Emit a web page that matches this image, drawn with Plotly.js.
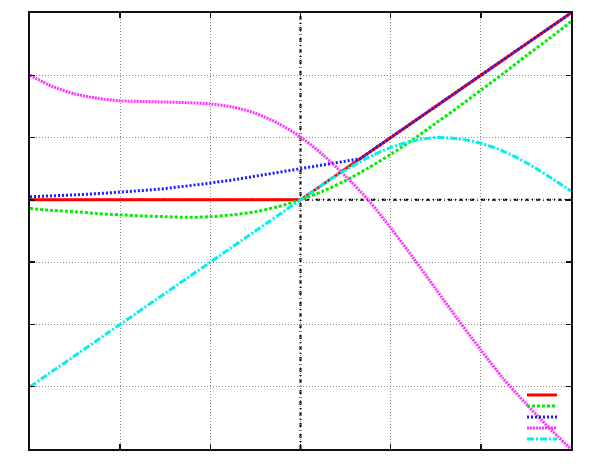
<!DOCTYPE html>
<html>
<head>
<meta charset="utf-8">
<script src="https://cdn.plot.ly/plotly-3.0.1.min.js"></script>
<style>html,body{margin:0;padding:0;background:#fff;}#chart{width:591px;height:472px;}</style>
</head>
<body>
<div id="chart"></div>
<script>
const reluX = [-3, 0, 3];
const reluY = [0, 0, 3];

const swishX = [-3, -2.75, -2.5, -2.25, -2, -1.75, -1.5, -1.25, -1, -0.75, -0.5, -0.25, 0, 0.25, 0.5, 0.75, 1, 1.25, 1.5, 1.75, 2, 2.25, 2.5, 2.75, 3];
const swishY = [-0.14, -0.17, -0.19, -0.22, -0.24, -0.26, -0.27, -0.28, -0.27, -0.24, -0.19, -0.11, 0, 0.14, 0.31, 0.51, 0.73, 0.97, 1.23, 1.49, 1.76, 2.03, 2.31, 2.58, 2.86];

const blueX = [-3, -2.75, -2.5, -2.25, -2, -1.75, -1.5, -1.25, -1, -0.75, -0.5, -0.25, 0, 0.25, 0.5, 0.66, 3];
const blueY = [0.05, 0.06, 0.08, 0.10, 0.12, 0.15, 0.18, 0.22, 0.27, 0.32, 0.38, 0.44, 0.5, 0.56, 0.62, 0.66, 3];

const magX = [-3, -2.75, -2.5, -2.25, -2, -1.75, -1.5, -1.25, -1, -0.75, -0.5, -0.25, 0, 0.25, 0.5, 0.75, 1, 1.25, 1.5, 1.75, 2, 2.25, 2.5, 2.75, 3];
const magY = [2.0, 1.82, 1.70, 1.63, 1.59, 1.58, 1.57, 1.56, 1.54, 1.49, 1.39, 1.23, 1.01, 0.72, 0.38, 0.0, -0.45, -0.93, -1.43, -1.93, -2.41, -2.87, -3.27, -3.65, -4.0];

const cyanX = [-3, 0, 0.25, 0.5, 0.75, 1, 1.25, 1.5, 1.75, 2, 2.25, 2.5, 2.75, 3];
const cyanY = [-3, 0, 0.25, 0.48, 0.68, 0.84, 0.95, 1.0, 0.98, 0.91, 0.78, 0.60, 0.38, 0.14];

const xTicks = [-3, -2, -1, 0, 1, 2, 3];
const yTicks = [-4, -3, -2, -1, 0, 1, 2, 3];

const styles = [
  {color: '#ff0000', dash: 'solid', width: 3, shape: 'linear'},
  {color: '#00ee00', dash: '3px,2px', width: 3, shape: 'spline'},
  {color: '#1a1aff', dash: '2px,2px', width: 3, shape: 'linear'},
  {color: '#ff33ff', dash: '2px,1px', width: 3, shape: 'spline'},
  {color: '#00f0f0', dash: '7px,2px,2px,2px', width: 3, shape: 'spline'}
];

const series = [[reluX, reluY], [swishX, swishY], [blueX, blueY], [magX, magY], [cyanX, cyanY]];
const traces = series.map((s, i) => ({
  x: s[0], y: s[1], type: 'scatter', mode: 'lines', showlegend: false,
  line: {color: styles[i].color, dash: styles[i].dash, width: styles[i].width, shape: styles[i].shape, smoothing: 0.8},
  hoverinfo: 'skip'
}));

const shapes = [
  {type: 'line', xref: 'x', yref: 'paper', x0: 0, x1: 0, y0: 0, y1: 1, layer: 'between',
   line: {color: '#000', width: 2, dash: '4px,3px,1px,3px'}},
  {type: 'line', xref: 'paper', yref: 'y', x0: 0, x1: 1, y0: 0, y1: 0, layer: 'between',
   line: {color: '#000', width: 2, dash: '4px,3px,1px,3px'}}
];
// legend key samples (no text in reference)
const keyY = [0.1239, 0.0986, 0.0734, 0.0482, 0.0229];
styles.forEach((st, i) => {
  shapes.push({type: 'line', xref: 'paper', yref: 'paper', x0: 0.9187, x1: 0.974, y0: keyY[i], y1: keyY[i],
    line: {color: st.color, dash: st.dash, width: st.width}});
});

const axisCommon = {
  showline: true, linecolor: '#111', linewidth: 2, mirror: 'allticks',
  ticks: 'inside', ticklen: 5, tickcolor: '#111', tickwidth: 1.5,
  showticklabels: false, showgrid: true, gridcolor: '#8a8a8a', griddash: '1px,2px', gridwidth: 1,
  zeroline: false, tickmode: 'array'
};

const layout = {
  width: 591, height: 472,
  margin: {l: 30, r: 20, t: 13, b: 23},
  paper_bgcolor: '#fff', plot_bgcolor: '#fff',
  showlegend: false,
  xaxis: Object.assign({}, axisCommon, {range: [-3, 3], tickvals: xTicks}),
  yaxis: Object.assign({}, axisCommon, {range: [-4, 3], tickvals: yTicks}),
  shapes: shapes
};

Plotly.newPlot('chart', traces, layout, {displayModeBar: false, staticPlot: true});
</script>
</body>
</html>
